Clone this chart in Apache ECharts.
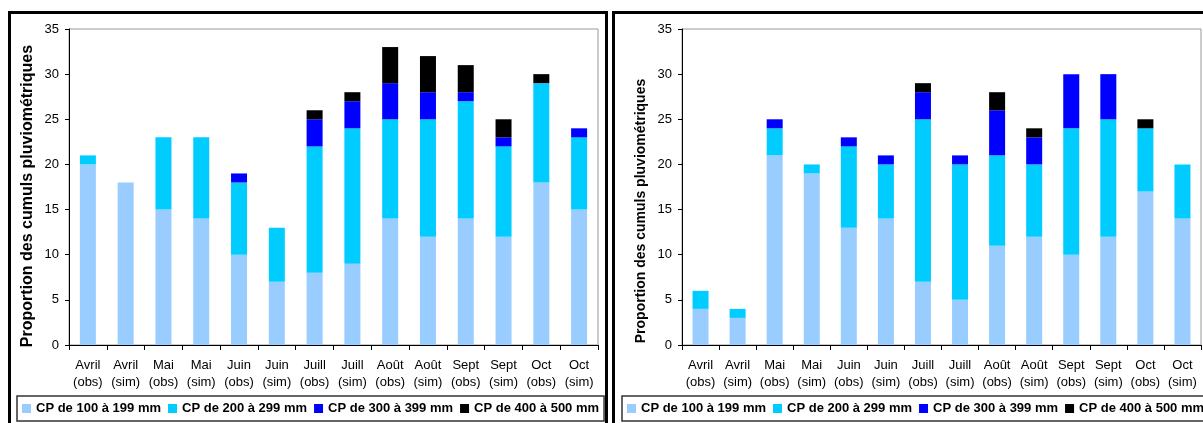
<!DOCTYPE html>
<html>
<head>
<meta charset="utf-8">
<script src="https://cdn.jsdelivr.net/npm/echarts@6/dist/echarts.min.js"></script>
<style>
  html, body { margin: 0; padding: 0; background: #fff; }
  #chart { width: 1203px; height: 423px; }
</style>
</head>
<body>
<div id="chart"></div>
<script>
// categories
var months = ['Avril', 'Avril', 'Mai', 'Mai', 'Juin', 'Juin', 'Juill', 'Juill', 'Août', 'Août', 'Sept', 'Sept', 'Oct', 'Oct']
var kinds = ['obs', 'sim', 'obs', 'sim', 'obs', 'sim', 'obs', 'sim', 'obs', 'sim', 'obs', 'sim', 'obs', 'sim']
var yTicks = [0, 5, 10, 15, 20, 25, 30, 35]
var seriesNames = ['CP de 100 à 199 mm', 'CP de 200 à 299 mm', 'CP de 300 à 399 mm', 'CP de 400 à 500 mm']
var colors = ['#99CCFF', '#00CCFF', '#0000FF', '#000000']

// panneau gauche
var left100 = [20, 18, 15, 14, 10, 7, 8, 9, 14, 12, 14, 12, 18, 15]
var left200 = [1, 0, 8, 9, 8, 6, 14, 15, 11, 13, 13, 10, 11, 8]
var left300 = [0, 0, 0, 0, 1, 0, 3, 3, 4, 3, 1, 1, 0, 1]
var left400 = [0, 0, 0, 0, 0, 0, 1, 1, 4, 4, 3, 2, 1, 0]

// panneau droit
var right100 = [4, 3, 21, 19, 13, 14, 7, 5, 11, 12, 10, 12, 17, 14]
var right200 = [2, 1, 3, 1, 9, 6, 18, 15, 10, 8, 14, 13, 7, 6]
var right300 = [0, 0, 1, 0, 1, 1, 3, 1, 5, 3, 6, 5, 0, 0]
var right400 = [0, 0, 0, 0, 0, 0, 1, 0, 2, 1, 0, 0, 1, 0]

var categories = months.map(function(m, i) { return m + '\n(' + kinds[i] + ')' })
var fontFamily = '"Liberation Sans", Arial, sans-serif'

function xAxisFor(idx) {
  return {
    type: 'category',
    gridIndex: idx,
    data: categories,
    axisLine: { lineStyle: { color: '#000', width: 1 } },
    axisTick: { show: true, inside: false, length: 5, lineStyle: { color: '#000' } },
    axisLabel: {
      interval: 0,
      color: '#000',
      fontSize: 13,
      lineHeight: 17,
      margin: 12,
      fontFamily: fontFamily
    }
  }
}

function yAxisFor(idx) {
  return {
    type: 'value',
    gridIndex: idx,
    min: 0,
    max: 35,
    interval: 5,
    splitLine: { show: false },
    axisLine: { show: true, lineStyle: { color: '#000', width: 1 } },
    axisTick: { show: true, inside: false, length: 4, lineStyle: { color: '#000' } },
    axisLabel: {
      color: '#000',
      fontSize: 13,
      margin: 10,
      fontFamily: fontFamily,
      formatter: function(v) { return yTicks.indexOf(v) >= 0 ? String(v) : '' }
    }
  }
}

function seriesFor(idx, data) {
  return data.map(function(d, i) {
    return {
      name: seriesNames[i],
      type: 'bar',
      stack: 'panel' + idx,
      xAxisIndex: idx,
      yAxisIndex: idx,
      barWidth: 16,
      itemStyle: { color: colors[i] },
      data: d
    }
  })
}

function legendFor(left) {
  return {
    data: seriesNames,
    left: left,
    top: 396,
    width: 640,
    orient: 'horizontal',
    icon: 'rect',
    itemWidth: 9,
    itemHeight: 9,
    itemGap: 7,
    padding: [6, 5, 6, 5],
    borderColor: '#333',
    borderWidth: 1.5,
    selectedMode: false,
    textStyle: { color: '#000', fontSize: 13, fontWeight: 'bold', fontFamily: fontFamily }
  }
}

var myChart = echarts.init(document.getElementById('chart'))

var option = {
  backgroundColor: '#fff',
  animation: false,
  color: colors,
  grid: [
    { left: 69, top: 29, width: 529, height: 316, show: true, borderColor: '#999', borderWidth: 1, backgroundColor: 'transparent' },
    { left: 682, top: 29, width: 519, height: 316, show: true, borderColor: '#999', borderWidth: 1, backgroundColor: 'transparent' }
  ],
  xAxis: [xAxisFor(0), xAxisFor(1)],
  yAxis: [yAxisFor(0), yAxisFor(1)],
  legend: [legendFor(17), legendFor(622)],
  series: seriesFor(0, [left100, left200, left300, left400])
    .concat(seriesFor(1, [right100, right200, right300, right400])),
  graphic: [
    // cadres des deux panneaux
    { type: 'rect', silent: true, z: 100, shape: { x: 9.5, y: 12.5, width: 597, height: 430 }, style: { fill: 'none', stroke: '#000', lineWidth: 3 } },
    { type: 'rect', silent: true, z: 100, shape: { x: 613.5, y: 12.5, width: 620, height: 430 }, style: { fill: 'none', stroke: '#000', lineWidth: 3 } },
    // titres des axes Y
    { type: 'text', silent: true, x: 28, y: 196, rotation: Math.PI / 2,
      style: { text: 'Proportion des cumuls pluviométriques', fill: '#000', font: 'bold 16px ' + fontFamily, textAlign: 'center', textVerticalAlign: 'middle' } },
    { type: 'text', silent: true, x: 641, y: 211, rotation: Math.PI / 2,
      style: { text: 'Proportion des cumuls pluviométriques', fill: '#000', font: 'bold 14px ' + fontFamily, textAlign: 'center', textVerticalAlign: 'middle' } }
  ]
}

myChart.setOption(option)
window.addEventListener('resize', () => { myChart.resize() })
</script>
</body>
</html>
